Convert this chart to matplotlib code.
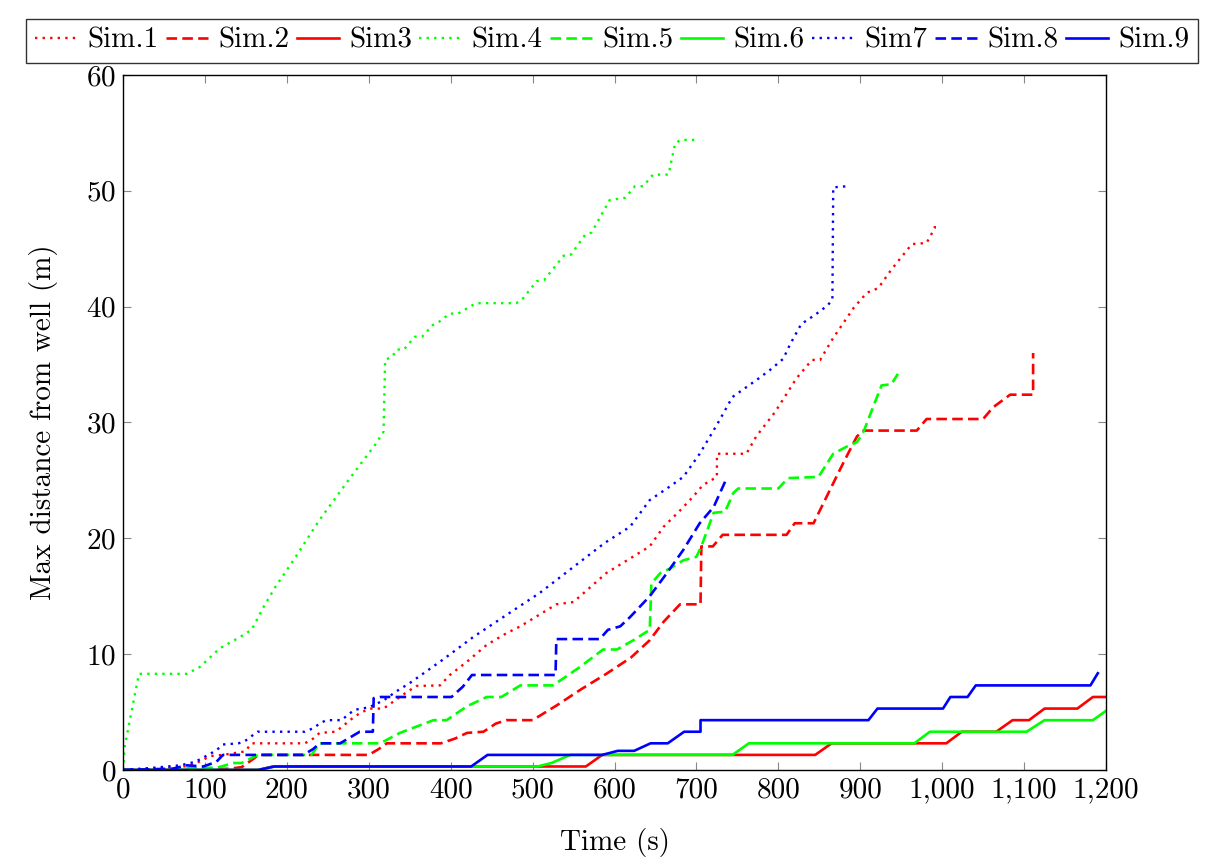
import matplotlib
matplotlib.use("Agg")
import matplotlib.pyplot as plt
from matplotlib.ticker import FuncFormatter, MultipleLocator

plt.rcParams["font.family"] = "serif"
plt.rcParams["font.serif"] = ["cmr10", "DejaVu Serif"]
plt.rcParams["mathtext.fontset"] = "cm"
plt.rcParams["axes.formatter.use_mathtext"] = True

# ──────────────────────────────────────────────
# DATA
# ──────────────────────────────────────────────
sim1_t = [0, 61, 80, 96, 106, 122, 149, 157, 222, 232, 240, 259, 267, 277, 289, 301, 318, 330,
          344, 358, 387, 399, 420, 444, 468, 485, 529, 550, 590, 643, 660, 680, 696, 708, 725,
          725, 761, 773, 796, 822, 841, 851, 867, 892, 908, 922, 938, 963, 981, 991, 991]
sim1_d = [0, 0.2, 0.35, 0.8, 1.2, 1.3, 1.6, 2.3, 2.3, 2.7, 3.2, 3.3, 3.7, 4.3, 4.9, 5.3, 5.3, 5.9,
          6.6, 7.25, 7.3, 8.2, 9.35, 10.8, 11.8, 12.4, 14.3, 14.5, 17.0, 19.3, 21.0, 22.4, 23.6, 24.6, 25.3,
          27.3, 27.3, 28.8, 30.9, 33.8, 35.4, 35.4, 37.3, 39.9, 41.2, 41.6, 43.2, 45.4, 45.5, 46.8, 47.4]

sim2_t = [0, 130, 145, 160, 165, 300, 312, 322, 388, 405, 420, 440, 455, 468, 500, 530, 560, 590,
          620, 643, 660, 680, 705, 706, 720, 732, 810, 820, 843, 859, 875, 885, 896, 904, 969, 981,
          1050, 1062, 1083, 1111, 1111]
sim2_d = [0, 0.1, 0.25, 1.0, 1.3, 1.3, 1.8, 2.3, 2.3, 2.7, 3.2, 3.3, 4.0, 4.3, 4.3, 5.6, 7.0, 8.3,
          9.7, 11.2, 12.8, 14.3, 14.3, 19.3, 19.3, 20.3, 20.3, 21.3, 21.3, 23.6, 25.9, 27.3, 28.8, 29.3, 29.3, 30.3,
          30.3, 31.3, 32.4, 32.4, 36.0]

sim3_t = [0, 165, 183, 565, 585, 845, 865, 1005, 1024, 1066, 1086, 1106, 1125, 1165, 1184, 1200]
sim3_d = [0, 0, 0.3, 0.3, 1.3, 1.3, 2.3, 2.3, 3.3, 3.3, 4.3, 4.3, 5.3, 5.3, 6.3, 6.3]

sim4_t = [0, 2, 13, 19.5, 78, 94, 118, 141, 157, 171, 186, 208, 240, 275, 308, 318, 320,
          329, 334, 343, 356, 365, 378, 386, 399, 409, 431, 480, 487, 505, 514, 538, 547, 564,
          572, 594, 613, 625, 635, 647, 666, 674, 681, 700]
sim4_d = [0, 2.0, 6.0, 8.3, 8.3, 8.9, 10.5, 11.4, 12.1, 14.0, 15.8, 18.1, 21.6, 25.0, 28.1, 29.2, 35.4,
          35.7, 36.3, 36.3, 37.4, 37.4, 38.4, 38.7, 39.4, 39.4, 40.3, 40.3, 40.6, 42.2, 42.3, 44.4, 44.5, 46.2,
          46.4, 49.2, 49.4, 50.4, 50.4, 51.4, 51.4, 54.1, 54.4, 54.4]

sim5_t = [0, 115, 135, 145, 160, 165, 230, 240, 314, 338, 379, 395, 420, 444, 462, 485, 525, 558,
          586, 603, 623, 643, 645, 656, 668, 684, 700, 706, 721, 735, 745, 751, 800, 812, 849, 867,
          883, 896, 904, 916, 926, 938, 946]
sim5_d = [0, 0.2, 0.6, 0.6, 1.15, 1.3, 1.3, 2.3, 2.3, 3.2, 4.3, 4.3, 5.5, 6.3, 6.3, 7.3, 7.3, 8.9,
          10.4, 10.4, 11.2, 12.1, 16.1, 17.0, 17.4, 18.1, 18.4, 19.3, 22.2, 22.3, 23.9, 24.3, 24.3, 25.2, 25.3, 27.3,
          27.9, 28.3, 29.2, 31.4, 33.2, 33.3, 34.2]

sim6_t = [0, 165, 185, 506, 523, 546, 744, 764, 966, 985, 1103, 1125, 1184, 1200]
sim6_d = [0, 0, 0.3, 0.3, 0.6, 1.3, 1.3, 2.3, 2.3, 3.3, 3.3, 4.3, 4.3, 5.1]

sim7_t = [0, 39, 70, 88, 104, 114, 122, 141, 149, 164, 222, 232, 240, 248, 267, 275, 283, 300,
          318, 334, 350, 390, 428, 509, 588, 619, 643, 664, 684, 704, 725, 744, 760, 776, 791, 806,
          814, 828, 845, 860, 866, 867, 885]
sim7_d = [0, 0.2, 0.4, 0.7, 1.3, 1.7, 2.2, 2.3, 2.5, 3.3, 3.3, 3.6, 4.0, 4.3, 4.3, 4.8, 5.2, 5.4,
          6.0, 6.8, 7.5, 9.5, 11.5, 15.3, 19.6, 21.0, 23.3, 24.3, 25.3, 27.3, 29.8, 32.2, 33.0, 33.8, 34.6, 35.5,
          36.7, 38.5, 39.3, 40.1, 40.6, 50.3, 50.4]

sim8_t = [0, 60, 78, 98, 114, 122, 220, 232, 240, 265, 289, 305, 306, 314, 401, 415, 426, 528,
          529, 582, 592, 607, 619, 643, 664, 684, 704, 721, 737]
sim8_d = [0, 0.1, 0.4, 0.3, 0.7, 1.3, 1.3, 1.8, 2.3, 2.3, 3.3, 3.3, 6.2, 6.3, 6.3, 7.2, 8.2, 8.2,
          11.3, 11.3, 12.1, 12.4, 13.2, 15.0, 17.0, 19.0, 21.3, 22.7, 25.2]

sim9_t = [0, 165, 185, 425, 445, 585, 604, 624, 644, 665, 685, 705, 705, 910, 921, 1001, 1010,
          1031, 1041, 1181, 1190]
sim9_d = [0, 0, 0.3, 0.3, 1.3, 1.3, 1.65, 1.65, 2.3, 2.3, 3.3, 3.3, 4.3, 4.3, 5.3, 5.3, 6.3,
          6.3, 7.3, 7.3, 8.35]

labels = ["Sim.1", "Sim.2", "Sim3", "Sim.4", "Sim.5", "Sim.6", "Sim7", "Sim.8", "Sim.9"]

# ──────────────────────────────────────────────
# PLOT
# ──────────────────────────────────────────────
RED, GREEN, BLUE = "#ff0000", "#00ff00", "#0000ff"
DOT = (0, (1.0, 2.2))
DASH = (0, (4.0, 2.0))
FS = 21

series = [
    (sim1_t, sim1_d, RED, DOT),
    (sim2_t, sim2_d, RED, DASH),
    (sim3_t, sim3_d, RED, "-"),
    (sim4_t, sim4_d, GREEN, DOT),
    (sim5_t, sim5_d, GREEN, DASH),
    (sim6_t, sim6_d, GREEN, "-"),
    (sim7_t, sim7_d, BLUE, DOT),
    (sim8_t, sim8_d, BLUE, DASH),
    (sim9_t, sim9_d, BLUE, "-"),
]

fig = plt.figure(figsize=(12.24, 8.66), dpi=100)
ax = fig.add_axes([0.1005, 0.1109, 0.8031, 0.8025])

for (t, d, color, ls), lab in zip(series, labels):
    lw = 1.7 if ls == DOT else 1.9
    ax.plot(t, d, color=color, linestyle=ls, linewidth=lw, label=lab)

ax.set_xlim(0, 1200)
ax.set_ylim(0, 60)
ax.xaxis.set_major_locator(MultipleLocator(100))
ax.yaxis.set_major_locator(MultipleLocator(10))
ax.xaxis.set_major_formatter(FuncFormatter(lambda v, p: f"{v:,.0f}"))
ax.tick_params(direction="in", length=6, width=0.8, color="#888888",
               top=True, right=True, labelsize=FS, pad=5)
for sp in ax.spines.values():
    sp.set_linewidth(1.0)
    sp.set_color("black")

ax.set_xlabel("Time (s)", fontsize=FS, labelpad=18)
ax.set_ylabel("Max distance from well (m)", fontsize=FS, labelpad=20)

leg = fig.legend(loc="upper center", bbox_to_anchor=(0.5, 0.985), ncol=9,
                 fontsize=FS, frameon=True, fancybox=False, edgecolor="black",
                 handlelength=1.45, handletextpad=0.35, columnspacing=0.25,
                 borderpad=0.3, borderaxespad=0.2)
leg.get_frame().set_linewidth(1.0)

fig.savefig("out.png", dpi=100)
